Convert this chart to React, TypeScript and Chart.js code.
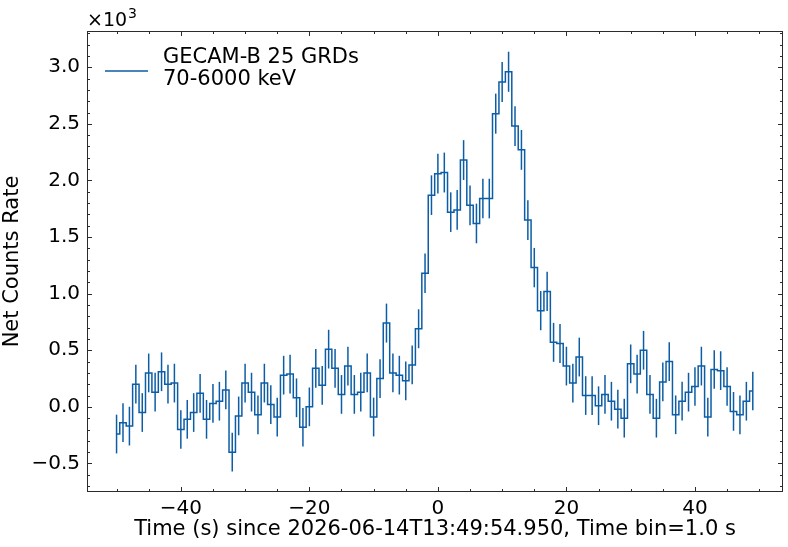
import React, { useEffect, useRef } from "react";
import { Chart, registerables } from "chart.js";

Chart.register(...registerables);

// Bin centres (s)
const TIME = [
  -50, -49, -48, -47, -46, -45, -44, -43, -42, -41,
  -40, -39, -38, -37, -36, -35, -34, -33, -32, -31,
  -30, -29, -28, -27, -26, -25, -24, -23, -22, -21,
  -20, -19, -18, -17, -16, -15, -14, -13, -12, -11,
  -10, -9, -8, -7, -6, -5, -4, -3, -2, -1,
  0, 1, 2, 3, 4, 5, 6, 7, 8, 9,
  10, 11, 12, 13, 14, 15, 16, 17, 18, 19,
  20, 21, 22, 23, 24, 25, 26, 27, 28, 29,
  30, 31, 32, 33, 34, 35, 36, 37, 38, 39,
  40, 41, 42, 43, 44, 45, 46, 47, 48, 49,
];

// Net count rate (×10³)
const RATE = [
  -0.24, -0.14, -0.17, 0.20, -0.05, 0.30, 0.13, 0.31, 0.20, 0.21,
  -0.20, -0.11, -0.05, 0.12, -0.11, 0.03, 0.05, 0.15, -0.40, -0.08,
  0.21, 0.13, -0.07, 0.21, 0.02, -0.09, 0.28, 0.29, 0.08, -0.18,
  0.00, 0.34, 0.19, 0.51, 0.34, 0.11, 0.36, 0.11, 0.13, 0.30,
  -0.09, 0.25, 0.74, 0.30, 0.28, 0.23, 0.37, 0.69, 1.18, 1.87,
  2.06, 2.07, 1.72, 1.74, 2.18, 1.78, 1.62, 1.84, 1.84, 2.59,
  2.87, 2.96, 2.48, 2.27, 1.65, 1.23, 0.85, 1.02, 0.57, 0.56,
  0.36, 0.21, 0.44, 0.10, 0.10, 0.01, 0.11, 0.05, -0.02, -0.10,
  0.38, 0.29, 0.50, 0.11, -0.10, 0.22, 0.40, -0.07, 0.05, 0.13,
  0.18, 0.36, -0.09, 0.33, 0.32, 0.18, -0.04, -0.07, 0.05, 0.14,
];

// 1-sigma errors (×10³)
const ERR = [
  0.171, 0.171, 0.171, 0.171, 0.171, 0.171, 0.171, 0.171, 0.171, 0.171,
  0.171, 0.171, 0.171, 0.171, 0.171, 0.171, 0.171, 0.171, 0.171, 0.171,
  0.171, 0.171, 0.171, 0.171, 0.171, 0.171, 0.171, 0.171, 0.171, 0.171,
  0.171, 0.171, 0.171, 0.171, 0.171, 0.171, 0.171, 0.171, 0.171, 0.171,
  0.171, 0.171, 0.172, 0.171, 0.171, 0.171, 0.171, 0.172, 0.174, 0.175,
  0.176, 0.176, 0.175, 0.175, 0.176, 0.175, 0.175, 0.175, 0.175, 0.177,
  0.177, 0.177, 0.176, 0.176, 0.175, 0.174, 0.173, 0.173, 0.172, 0.172,
  0.171, 0.171, 0.171, 0.171, 0.171, 0.171, 0.171, 0.171, 0.171, 0.171,
  0.171, 0.171, 0.171, 0.171, 0.171, 0.171, 0.171, 0.171, 0.171, 0.171,
  0.171, 0.171, 0.171, 0.171, 0.171, 0.171, 0.171, 0.171, 0.171, 0.171,
];

const X_TICKS = [-40, -20, 0, 20, 40];
const Y_TICKS = [-0.5, 0, 0.5, 1.0, 1.5, 2.0, 2.5, 3.0];
const LEGEND_LINES = ["GECAM-B 25 GRDs", "70-6000 keV"];
const X_TITLE = "Time (s) since 2026-06-14T13:49:54.950, Time bin=1.0 s";
const Y_TITLE = "Net Counts Rate";
const EXP_TEXT = "×10";
const EXP_POWER = "3";

const COLOR = "#0C5DA5";
const FONT = "DejaVu Sans";
const minus = (s: string) => s.replace("-", "\u2212");

const decor = {
  id: "decor",
  beforeDatasetsDraw(chart: any) {
    const { ctx, scales } = chart;
    const xs = scales.x;
    const ys = scales.y;
    ctx.save();
    ctx.strokeStyle = COLOR;
    ctx.lineWidth = 1.5;
    for (let i = 0; i < TIME.length; i++) {
      const px = xs.getPixelForValue(TIME[i]);
      ctx.beginPath();
      ctx.moveTo(px, ys.getPixelForValue(RATE[i] - ERR[i]));
      ctx.lineTo(px, ys.getPixelForValue(RATE[i] + ERR[i]));
      ctx.stroke();
    }
    ctx.restore();
  },
  afterDraw(chart: any) {
    const { ctx, chartArea, scales } = chart;
    const { left, right, top, bottom } = chartArea;
    const xs = scales.x;
    const ys = scales.y;
    ctx.save();
    ctx.strokeStyle = "#2b2b2b";
    ctx.lineWidth = 1;
    ctx.strokeRect(Math.round(left) + 0.5, Math.round(top) + 0.5, Math.round(right - left) - 1, Math.round(bottom - top) - 1);
    const tick = (x1: number, y1: number, x2: number, y2: number) => {
      ctx.beginPath();
      ctx.moveTo(x1, y1);
      ctx.lineTo(x2, y2);
      ctx.stroke();
    };
    // x ticks (minor every 5, major every 20)
    for (let v = -50; v <= 50; v += 5) {
      const px = Math.round(xs.getPixelForValue(v)) + 0.5;
      if (px < left || px > right) continue;
      const len = v % 20 === 0 ? 5 : 3;
      tick(px, bottom, px, bottom - len);
      tick(px, top, px, top + len);
    }
    // y ticks (minor every 0.1, major every 0.5)
    for (let k = -7; k <= 33; k++) {
      const v = k / 10;
      const py = Math.round(ys.getPixelForValue(v)) + 0.5;
      if (py < top || py > bottom) continue;
      const len = k % 5 === 0 ? 5 : 3;
      tick(left, py, left + len, py);
      tick(right, py, right - len, py);
    }
    ctx.fillStyle = "#000";
    // exponent
    ctx.textBaseline = "alphabetic";
    ctx.textAlign = "left";
    ctx.font = `19px "${FONT}"`;
    ctx.fillText(EXP_TEXT, 87, 26);
    const w = ctx.measureText(EXP_TEXT).width;
    ctx.font = `14px "${FONT}"`;
    ctx.fillText(EXP_POWER, 87 + w + 1, 18);
    // legend
    ctx.strokeStyle = COLOR;
    ctx.lineWidth = 1.5;
    tick(105, 71, 148, 71);
    ctx.font = `21px "${FONT}"`;
    ctx.textBaseline = "middle";
    ctx.fillText(LEGEND_LINES[0], 163, 58);
    ctx.fillText(LEGEND_LINES[1], 163, 80);
    // titles
    ctx.textAlign = "center";
    ctx.fillText(X_TITLE, (left + right) / 2, 530);
    ctx.translate(13, (top + bottom) / 2);
    ctx.rotate(-Math.PI / 2);
    ctx.fillText(Y_TITLE, 0, 0);
    ctx.restore();
  },
};

export default function App() {
  const ref = useRef<HTMLCanvasElement | null>(null);
  useEffect(() => {
    if (!ref.current) return;
    const chart = new Chart(ref.current, {
      type: "line",
      data: {
        datasets: [
          {
            data: TIME.map((t, i) => ({ x: t, y: RATE[i] })),
            borderColor: COLOR,
            borderWidth: 1.5,
            stepped: "middle",
            pointRadius: 0,
            fill: false,
          },
        ],
      },
      options: {
        animation: false,
        responsive: false,
        devicePixelRatio: 1,
        layout: { padding: { left: 0, top: 31, right: 5, bottom: 0 } },
        plugins: { legend: { display: false }, tooltip: { enabled: false } },
        scales: {
          x: {
            type: "linear",
            min: -54.6,
            max: 53.7,
            grid: { display: false, drawTicks: false },
            border: { display: false },
            afterBuildTicks: (s: any) => {
              s.ticks = X_TICKS.map((value) => ({ value }));
            },
            afterFit: (s: any) => {
              s.height = 55;
            },
            ticks: {
              padding: 5,
              color: "#000",
              font: { family: FONT, size: 20 },
              maxRotation: 0,
              callback: (v: any) => minus(String(v)),
            },
          },
          y: {
            type: "linear",
            min: -0.752,
            max: 3.32,
            grid: { display: false, drawTicks: false },
            border: { display: false },
            afterBuildTicks: (s: any) => {
              s.ticks = Y_TICKS.map((value) => ({ value }));
            },
            afterFit: (s: any) => {
              s.width = 87;
            },
            ticks: {
              padding: 7,
              color: "#000",
              font: { family: FONT, size: 20 },
              callback: (v: any) => minus(Number(v).toFixed(1)),
            },
          },
        },
      },
      plugins: [decor],
    });
    return () => chart.destroy();
  }, []);
  return (
    <div style={{ position: "absolute", left: 0, top: 0, width: 788, height: 547, background: "#fff" }}>
      <canvas ref={ref} width={788} height={547} style={{ width: 788, height: 547 }} />
    </div>
  );
}
